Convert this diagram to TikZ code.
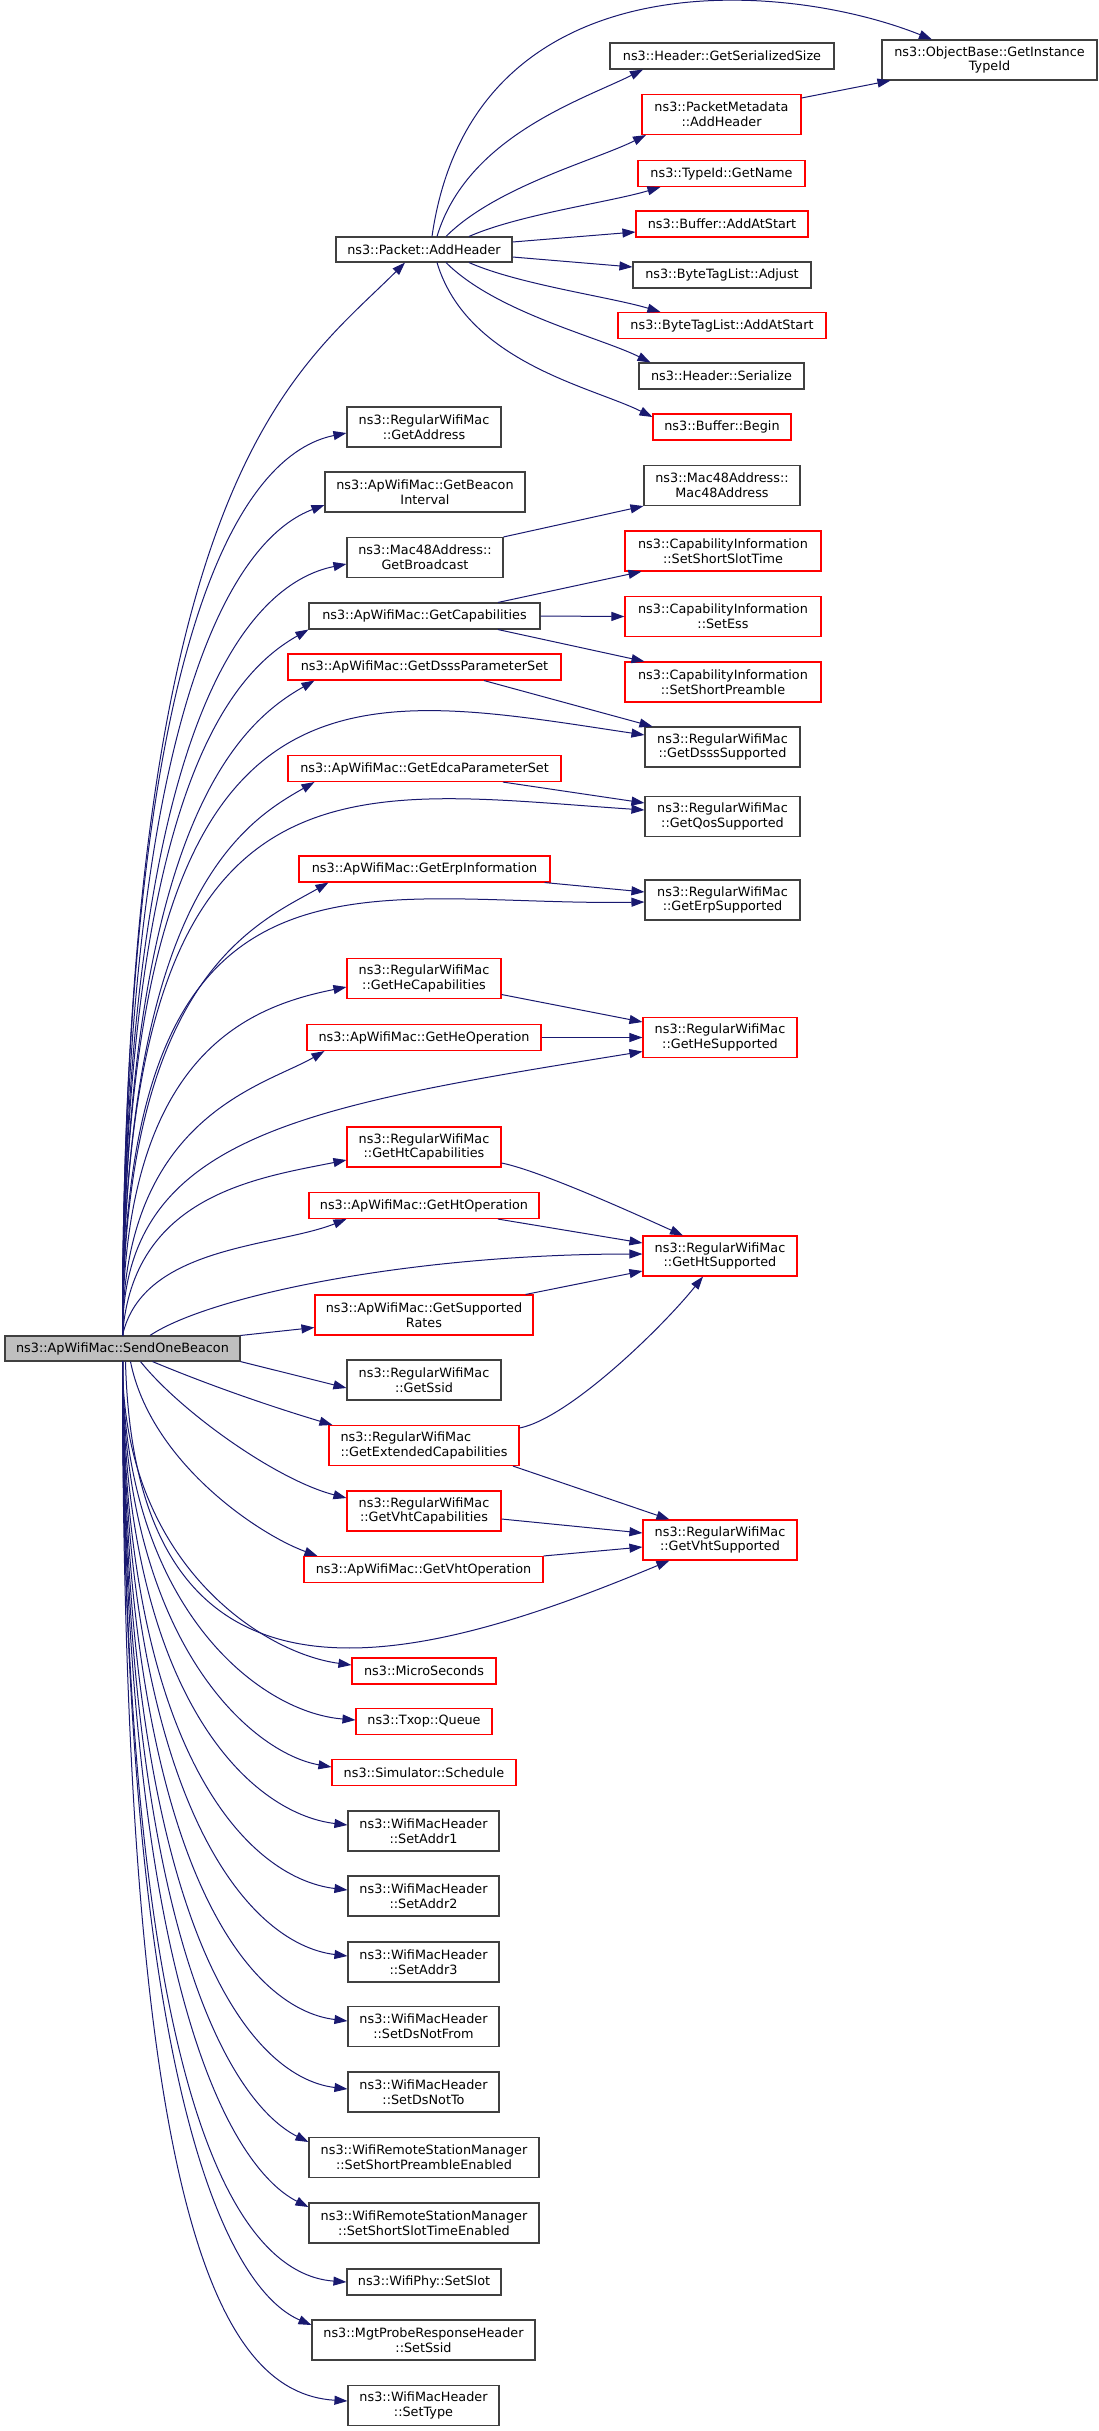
\documentclass[tikz,border=0pt]{standalone}
\usepackage{fontspec}
\setmainfont{DejaVu Sans}
\usetikzlibrary{arrows.meta}
\definecolor{callblue}{HTML}{191970}
\definecolor{boxgray}{HTML}{BFBFBF}
\definecolor{boxline}{HTML}{404040}
\definecolor{boxred}{HTML}{FF0000}

\begin{document}
\begin{tikzpicture}[x=1pt,y=-1pt]
   \tikzstyle{fn}=[draw=boxline, fill=white, line width=1.1pt, inner sep=2pt, align=center,
     font=\fontsize{12.8}{14.7}\selectfont, minimum height=26pt]
   \tikzstyle{fnred}=[fn, draw=boxred]
   \tikzstyle{fnmain}=[fn, fill=boxgray, minimum height=25pt]
   \tikzstyle{two}=[minimum height=40pt]
   \tikzstyle{callline}=[draw=callblue, line width=1pt, -{Triangle[length=13pt,width=9pt]}]
   \useasboundingbox (0,0) rectangle (1099,2431);
   \fill[white] (0,0) rectangle (1099,2431);

   % caller
   \node[fnmain, minimum width=235pt] (send) at (122.5,1348.5) {ns3::ApWifiMac::SendOneBeacon};

   % first level
   \node[fn, minimum width=176pt, minimum height=25pt] (addh) at (424,249.5) {ns3::Packet::AddHeader};
   \node[fn, two, minimum width=154pt] (getaddr) at (424,427) {ns3::RegularWifiMac\\::GetAddress};
   \node[fn, two, minimum width=200pt] (beaconint) at (425,492) {ns3::ApWifiMac::GetBeacon\\Interval};
   \node[fn, two, minimum width=156pt] (bcast) at (425,557.5) {ns3::Mac48Address::\\GetBroadcast};
   \node[fn, minimum width=231pt] (caps) at (424.5,616) {ns3::ApWifiMac::GetCapabilities};
   \node[fnred, minimum width=273pt] (dsss) at (424.5,667) {ns3::ApWifiMac::GetDsssParameterSet};
   \node[fnred, minimum width=273pt] (edca) at (424.5,768.5) {ns3::ApWifiMac::GetEdcaParameterSet};
   \node[fnred, minimum width=251pt] (erp) at (424.5,869) {ns3::ApWifiMac::GetErpInformation};
   \node[fnred, two, minimum width=154pt] (hecap) at (424,978.5) {ns3::RegularWifiMac\\::GetHeCapabilities};
   \node[fnred, minimum width=234pt] (heop) at (424,1037.5) {ns3::ApWifiMac::GetHeOperation};
   \node[fnred, two, minimum width=154pt] (htcap) at (424,1147) {ns3::RegularWifiMac\\::GetHtCapabilities};
   \node[fnred, minimum width=230pt] (htop) at (424,1205.5) {ns3::ApWifiMac::GetHtOperation};
   \node[fnred, two, minimum width=218pt] (rates) at (424,1315) {ns3::ApWifiMac::GetSupported\\Rates};
   \node[fn, two, minimum width=154pt] (ssid) at (424,1380) {ns3::RegularWifiMac\\::GetSsid};
   \node[fnred, two, minimum width=190pt, align=left] (extcap) at (424,1445.5) {ns3::RegularWifiMac\\::GetExtendedCapabilities};
   \node[fnred, two, minimum width=154pt] (vhtcap) at (424,1511) {ns3::RegularWifiMac\\::GetVhtCapabilities};
   \node[fnred, minimum width=239pt] (vhtop) at (423.5,1569.5) {ns3::ApWifiMac::GetVhtOperation};
   \node[fnred, minimum width=144pt] (micro) at (424,1671) {ns3::MicroSeconds};
   \node[fnred, minimum width=136pt] (queue) at (424,1721.5) {ns3::Txop::Queue};
   \node[fnred, minimum width=184pt] (sched) at (424,1772.5) {ns3::Simulator::Schedule};
   \node[fn, two, minimum width=151pt] (addr1) at (423.5,1831) {ns3::WifiMacHeader\\::SetAddr1};
   \node[fn, two, minimum width=151pt] (addr2) at (423.5,1896) {ns3::WifiMacHeader\\::SetAddr2};
   \node[fn, two, minimum width=151pt] (addr3) at (423.5,1962) {ns3::WifiMacHeader\\::SetAddr3};
   \node[fn, two, minimum width=151pt] (dsfrom) at (423.5,2026.5) {ns3::WifiMacHeader\\::SetDsNotFrom};
   \node[fn, two, minimum width=151pt] (dsto) at (423.5,2092) {ns3::WifiMacHeader\\::SetDsNotTo};
   \node[fn, two, minimum width=230pt] (spre) at (424,2157.5) {ns3::WifiRemoteStationManager\\::SetShortPreambleEnabled};
   \node[fn, two, minimum width=230pt] (sslot) at (424,2223) {ns3::WifiRemoteStationManager\\::SetShortSlotTimeEnabled};
   \node[fn, minimum width=154pt] (slot) at (424,2282) {ns3::WifiPhy::SetSlot};
   \node[fn, two, minimum width=223pt] (pssid) at (423.5,2340) {ns3::MgtProbeResponseHeader\\::SetSsid};
   \node[fn, two, minimum width=151pt] (stype) at (423.5,2405.5) {ns3::WifiMacHeader\\::SetType};

   % second level
   \node[fn, two, minimum width=215pt] (objtid) at (989.5,60) {ns3::ObjectBase::GetInstance\\TypeId};
   \node[fn, minimum width=224pt] (sersize) at (722,56) {ns3::Header::GetSerializedSize};
   \node[fnred, two, minimum width=159pt] (pmeta) at (721.5,114.5) {ns3::PacketMetadata\\::AddHeader};
   \node[fnred, minimum width=167pt] (tname) at (721.5,173.5) {ns3::TypeId::GetName};
   \node[fnred, minimum width=172pt] (bufadd) at (722,224) {ns3::Buffer::AddAtStart};
   \node[fn, minimum width=178pt] (tadjust) at (722,275) {ns3::ByteTagList::Adjust};
   \node[fnred, minimum width=208pt] (tagadd) at (722,325.5) {ns3::ByteTagList::AddAtStart};
   \node[fn, minimum width=165pt] (hser) at (721.5,376) {ns3::Header::Serialize};
   \node[fnred, minimum width=138pt] (bufbeg) at (722,427) {ns3::Buffer::Begin};
   \node[fn, two, minimum width=156pt] (mac48) at (722,485.5) {ns3::Mac48Address::\\Mac48Address};
   \node[fnred, two, minimum width=196pt] (sst) at (723,551) {ns3::CapabilityInformation\\::SetShortSlotTime};
   \node[fnred, two, minimum width=196pt] (sess) at (723,616.5) {ns3::CapabilityInformation\\::SetEss};
   \node[fnred, two, minimum width=196pt] (spr) at (723,682) {ns3::CapabilityInformation\\::SetShortPreamble};
   \node[fn, two, minimum width=155pt] (dsssup) at (722.5,747) {ns3::RegularWifiMac\\::GetDsssSupported};
   \node[fn, two, minimum width=155pt] (qossup) at (722.5,816.5) {ns3::RegularWifiMac\\::GetQosSupported};
   \node[fn, two, minimum width=155pt] (erpsup) at (722.5,900) {ns3::RegularWifiMac\\::GetErpSupported};
   \node[fnred, two, minimum width=154pt] (hesup) at (720,1037.5) {ns3::RegularWifiMac\\::GetHeSupported};
   \node[fnred, two, minimum width=154pt] (htsup) at (720,1256) {ns3::RegularWifiMac\\::GetHtSupported};
   \node[fnred, two, minimum width=154pt] (vhtsup) at (720,1540) {ns3::RegularWifiMac\\::GetVhtSupported};

   % calls going up
   \draw[callline] (send.north) .. controls +(0,-860) and +(-110,110) .. ([xshift=-19pt]addh.south);
   \draw[callline] (send.north) .. controls +(0,-720) and +(-100,20) .. ([yshift=-6pt]getaddr.west);
   \draw[callline] (send.north) .. controls +(0,-660) and +(-80,30) .. ([yshift=-13pt]beaconint.west);
   \draw[callline] (send.north) .. controls +(0,-610) and +(-100,20) .. ([yshift=-6.5pt]bcast.west);
   \draw[callline] (send.north) .. controls +(0,-560) and +(-70,40) .. (caps.south west);
   \draw[callline] (send.north) .. controls +(0,-520) and +(-70,40) .. ([xshift=27pt]dsss.south west);
   \draw[callline] (send.north) .. controls +(0,-700) and +(-300,-45) .. ([yshift=12pt]dsssup.west);
   \draw[callline] (send.north) .. controls +(0,-440) and +(-70,40) .. ([xshift=27pt]edca.south west);
   \draw[callline] (send.north) .. controls +(0,-600) and +(-300,-20) .. ([yshift=6.5pt]qossup.west);
   \draw[callline] (send.north) .. controls +(0,-360) and +(-70,40) .. ([xshift=30pt]erp.south west);
   \draw[callline] (send.north) .. controls +(0,-520) and +(-280,5) .. ([yshift=-2pt]erpsup.west);
   \draw[callline] (send.north) .. controls +(0,-280) and +(-100,20) .. ([yshift=-8.5pt]hecap.west);
   \draw[callline] (send.north) .. controls +(0,-220) and +(-60,35) .. ([xshift=18pt]heop.south west);
   \draw[callline] (send.north) .. controls +(0,-200) and +(-340,55) .. ([yshift=-14pt]hesup.west);
   \draw[callline] (send.north) .. controls +(10,-140) and +(-90,18) .. ([yshift=-13pt]htcap.west);
   \draw[callline] (send.north) .. controls +(20,-90) and +(-70,28) .. ([xshift=38pt]htop.south west);
   \draw[callline] ([xshift=27.5pt]send.north) .. controls +(60,-40) and +(-230,0) .. ([yshift=2pt]htsup.west);
   \draw[callline] (send.north east) -- ([yshift=-12.5pt]rates.west);

   % calls going down
   \draw[callline] (send.south east) -- ([yshift=-8pt]ssid.west);
   \draw[callline] ([xshift=30pt]send.south) .. controls +(60,25) and +(-60,-18) .. ([xshift=4pt]extcap.north west);
   \draw[callline] ([xshift=18pt]send.south) .. controls +(40,50) and +(-70,-18) .. ([yshift=13pt]vhtcap.west);
   \draw[callline] ([xshift=8pt]send.south) .. controls +(20,100) and +(-60,-22) .. ([xshift=14pt]vhtop.north west);
   \draw[callline] ([xshift=3pt]send.south) .. controls +(10,390) and +(-240,100) .. ([xshift=27pt]vhtsup.south west);
   \draw[callline] (send.south) .. controls +(0,200) and +(-90,-12) .. ([yshift=6pt]micro.west);
   \draw[callline] (send.south) .. controls +(0,240) and +(-100,-8) .. ([yshift=1.5pt]queue.west);
   \draw[callline] (send.south) .. controls +(0,280) and +(-80,-14) .. ([yshift=5.5pt]sched.west);
   \draw[callline] (send.south) .. controls +(0,330) and +(-100,-12) .. ([yshift=6pt]addr1.west);
   \draw[callline] (send.south) .. controls +(0,390) and +(-100,-12) .. ([yshift=6pt]addr2.west);
   \draw[callline] (send.south) .. controls +(0,440) and +(-100,-12) .. ([yshift=6pt]addr3.west);
   \draw[callline] (send.south) .. controls +(0,500) and +(-100,-12) .. ([yshift=5.5pt]dsfrom.west);
   \draw[callline] (send.south) .. controls +(0,560) and +(-100,-12) .. ([yshift=3pt]dsto.west);
   \draw[callline] (send.south) .. controls +(0,620) and +(-60,-30) .. ([yshift=15.5pt]spre.west);
   \draw[callline] (send.south) .. controls +(0,680) and +(-60,-30) .. ([yshift=16pt]sslot.west);
   \draw[callline] (send.south) .. controls +(0,740) and +(-110,-8) .. (slot.west);
   \draw[callline] (send.south) .. controls +(0,780) and +(-70,-30) .. ([yshift=15pt]pssid.west);
   \draw[callline] (send.south) .. controls +(0,850) and +(-130,-8) .. ([yshift=4.5pt]stype.west);

   % second level calls
   \draw[callline] ([xshift=8pt]addh.north) .. controls +(40,-280) and +(-150,-60) .. ([xshift=-57.5pt]objtid.north);
   \draw[callline] ([xshift=13pt]addh.north) .. controls +(30,-100) and +(-60,30) .. ([xshift=-79pt]sersize.south);
   \draw[callline] ([xshift=22pt]addh.north) .. controls +(50,-50) and +(-50,25) .. ([xshift=4.5pt]pmeta.south west);
   \draw[callline] ([xshift=45pt]addh.north) .. controls +(50,-22) and +(-50,15) .. ([xshift=23pt]tname.south west);
   \draw[callline] ([yshift=7.5pt]addh.east) -- ([yshift=-8pt]bufadd.west);
   \draw[callline] ([yshift=-7.5pt]addh.east) -- ([yshift=8pt]tadjust.west);
   \draw[callline] ([xshift=45pt]addh.south) .. controls +(50,22) and +(-50,-15) .. ([xshift=43pt]tagadd.north west);
   \draw[callline] ([xshift=22pt]addh.south) .. controls +(50,50) and +(-50,-25) .. ([xshift=12pt]hser.north west);
   \draw[callline] ([xshift=13pt]addh.south) .. controls +(30,100) and +(-60,-30) .. ([yshift=10pt]bufbeg.west);
   \draw[callline] ([yshift=16.5pt]pmeta.east) -- ([xshift=9pt]objtid.south west);
   \draw[callline] (bcast.north east) -- (mac48.south west);
   \draw[callline] ([xshift=73.5pt]caps.north) -- ([xshift=17pt]sst.south west);
   \draw[callline] (caps.east) -- (sess.west);
   \draw[callline] ([xshift=73.5pt]caps.south) -- ([xshift=20pt]spr.north west);
   \draw[callline] ([xshift=59.5pt]dsss.south) -- ([xshift=8pt]dsssup.north west);
   \draw[callline] ([xshift=78.5pt]edca.south) -- ([yshift=13.5pt]qossup.west);
   \draw[callline] ([xshift=-6pt]erp.south east) -- ([yshift=8pt]erpsup.west);
   \draw[callline] ([yshift=-16pt]hecap.east) -- ([yshift=15.5pt]hesup.west);
   \draw[callline] (heop.east) -- (hesup.west);
   \draw[callline] ([yshift=-16pt]htcap.east) .. controls +(40,8) and +(-40,-18) .. ([xshift=-37pt]htsup.north);
   \draw[callline] ([xshift=74pt]htop.south) -- ([yshift=13pt]htsup.west);
   \draw[callline] ([xshift=-8pt]rates.north east) -- ([yshift=-15pt]htsup.west);
   \draw[callline] ([yshift=17.5pt]extcap.east) .. controls +(50,-10) and +(-40,50) .. ([xshift=-17pt]htsup.south);
   \draw[callline] ([xshift=89pt]extcap.south) -- ([xshift=27pt]vhtsup.north west);
   \draw[callline] ([yshift=-8pt]vhtcap.east) -- ([yshift=7pt]vhtsup.west);
   \draw[callline] (vhtop.north east) -- ([yshift=-7pt]vhtsup.west);
\end{tikzpicture}
\end{document}
